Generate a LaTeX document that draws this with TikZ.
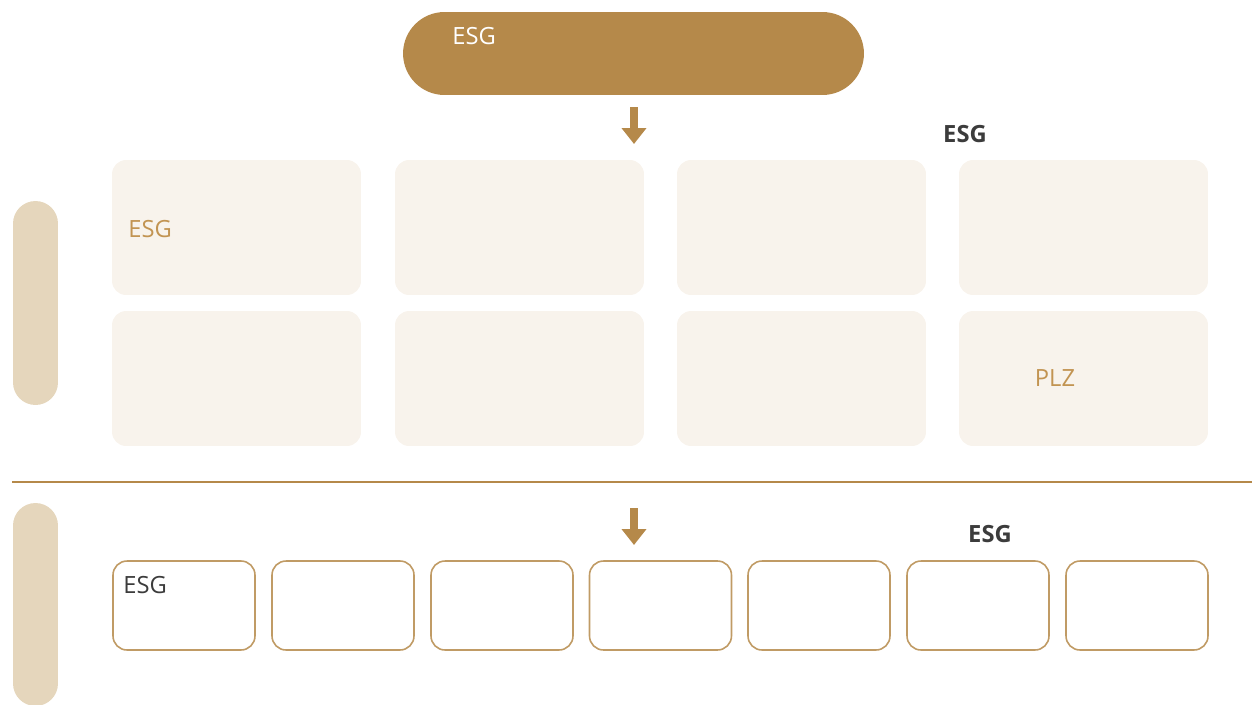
\documentclass[tikz,border=0pt]{standalone}
\usepackage{fontspec}
\setmainfont{Open Sans}
\usetikzlibrary{arrows.meta,positioning}
\definecolor{EsgGold}{HTML}{B5894A}
\definecolor{EsgText}{HTML}{C29452}
\definecolor{EsgCream}{HTML}{F8F3EC}
\definecolor{EsgSand}{HTML}{E5D6BC}
\definecolor{EsgDark}{HTML}{3C3C3C}

\begin{document}
\begin{tikzpicture}[
  x=0.02cm,y=-0.02cm,
  headpill/.style={rectangle,rounded corners=0.83cm,fill=EsgGold,minimum width=9.22cm,minimum height=1.66cm,inner sep=0pt},
  sidebar/.style={rectangle,rounded corners=0.45cm,fill=EsgSand,minimum width=0.9cm,inner sep=0pt},
  tile/.style={rectangle,rounded corners=0.28cm,fill=EsgCream,minimum width=4.98cm,minimum height=2.7cm,inner sep=0pt},
  slot/.style={rectangle,rounded corners=0.28cm,draw=EsgGold!85,line width=0.9pt,fill=white,minimum width=2.84cm,minimum height=1.78cm,inner sep=0pt},
  label/.style={font=\fontsize{13.5}{16}\selectfont,inner sep=0pt},
  arrow/.style={-{Triangle[width=0.48cm,length=0.32cm]},line width=0.16cm,color=EsgGold}
]
\useasboundingbox (0,0) rectangle (1252,704);

% top pill
\node[headpill] (head) at (633.5,53.5) {};
\node[label,anchor=west,text=white] (headtext) at (452,36) {ESG};

% side bars
\node[sidebar,minimum height=4.08cm] (barA) at (35.5,303) {};
\node[sidebar,minimum height=4.06cm] (barB) at (35.5,604.5) {};

% grid of tiles
\foreach \col/\x in {1/236.5,2/519.5,3/801.5,4/1083.5}{
  \node[tile] (tileA\col) at (\x,227.5) {};
  \node[tile] (tileB\col) at (\x,378.5) {};
}
\node[label,anchor=west,text=EsgText] (tiletext) at (128,229) {ESG};
\node[label,text=EsgText] (plz) at (tileB4.center) {\hspace*{-1.14cm}PLZ};
\node[label,font=\fontsize{13.5}{16}\selectfont\bfseries,text=EsgDark] (headA) at (965,134) {ESG};

% divider
\coordinate (divL) at (12,482);
\coordinate (divR) at (1252,482);
\draw[EsgGold,line width=1.2pt] (divL) -- (divR);

% row of slots
\foreach \i/\x in {1/184,2/343,3/502,4/660.5,5/819,6/978,7/1137}{
  \node[slot] (slot\i) at (\x,605.5) {};
}
\node[label,anchor=west,text=EsgDark] (slottext) at (123,585) {ESG};
\node[label,font=\fontsize{13.5}{16}\selectfont\bfseries,text=EsgDark] (headB) at (990,534) {ESG};

% arrows
\coordinate (arrA) at (634,107);
\coordinate (arrAend) at (634,144);
\coordinate (arrB) at (634,508);
\coordinate (arrBend) at (634,545);
\draw[arrow] (arrA) -- (arrAend);
\draw[arrow] (arrB) -- (arrBend);
\end{tikzpicture}
\end{document}
